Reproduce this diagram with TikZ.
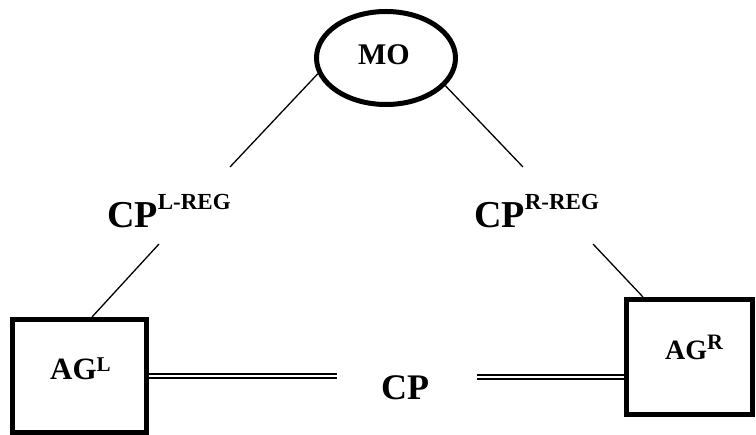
\documentclass[tikz,border=0pt]{standalone}
\usepackage{fontspec}
\setmainfont{Liberation Serif}
\usetikzlibrary{shapes.geometric}
\tikzset{
  thick box/.style={draw, line width=5pt, inner sep=0pt},
  txt/.style={inner sep=0pt, font=\bfseries},
  conn/.style={line width=1.3pt},
  dbl/.style={line width=1.3pt, double=white, double distance=2.5pt},
}
\newcommand{\fsz}[1]{\fontsize{#1}{#1}\selectfont}
\begin{document}
\begin{tikzpicture}[x=1pt, y=-1pt]
\useasboundingbox (0,0) rectangle (756,435);
% main shapes
\node[thick box, ellipse, minimum width=139pt, minimum height=93pt] (mo) at (386,58) {};
\node[txt, anchor=base] (motext) at (384,65) {\fsz{30}MO};
\node[thick box, minimum width=134pt, minimum height=113pt] (agl) at (79.5,376) {};
\node[txt, anchor=base west] (agltext) at (50,380) {\fsz{31}AG\raisebox{8pt}{\fsz{21}L}};
\node[thick box, minimum width=126pt, minimum height=115pt] (agr) at (689.5,357) {};
\node[txt, anchor=base west] (agrtext) at (665,360) {\fsz{28}AG\raisebox{10pt}{\fsz{22}R}};
% labels
\node[txt, anchor=base west] (cpl) at (107,228) {\fsz{38}CP\raisebox{18pt}{\fsz{23}L-REG}};
\node[txt, anchor=base west] (cpr) at (474,228) {\fsz{38}CP\raisebox{18pt}{\fsz{23}R-REG}};
\node[txt, anchor=base west] (cp) at (381,400) {\fsz{36}CP};
% free ends
\coordinate (c1) at (230,167);
\coordinate (c2) at (523,167);
\coordinate (c3) at (159,244);
\coordinate (c4) at (593,244);
\coordinate (dl) at (337,376);
\coordinate (dr) at (477,377);
% connectors
\draw[conn] (mo.193.5) -- (c1);
\draw[conn] (mo.335.6) -- (c2);
\draw[conn] (c3) -- ([xshift=12.5pt]agl.north);
\draw[conn] (c4) -- ([xshift=-46.5pt]agr.north);
\draw[dbl] (agl.east) -- (dl);
\draw[dbl] (dr) -- (agr.west |- dr);
\end{tikzpicture}
\end{document}
